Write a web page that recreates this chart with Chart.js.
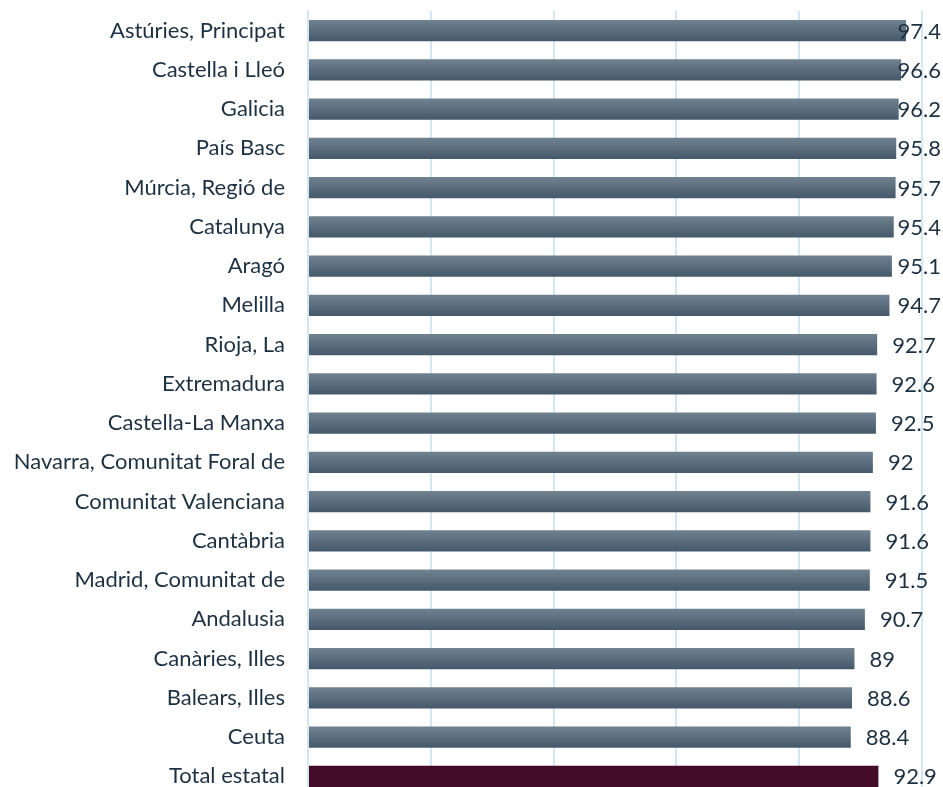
<!DOCTYPE html>
<html>
<head>
<meta charset="utf-8">
<script src="https://cdn.jsdelivr.net/npm/chart.js@4"></script>
<style>
  html, body { margin: 0; padding: 0; background: #fff; width: 943px; height: 787px; overflow: hidden; }
  canvas { display: block; }
</style>
</head>
<body>
<canvas id="c" width="943" height="796"></canvas>
<script>
const categories = [
  "Astúries, Principat", "Castella i Lleó", "Galicia", "País Basc", "Múrcia, Regió de",
  "Catalunya", "Aragó", "Melilla", "Rioja, La", "Extremadura", "Castella-La Manxa",
  "Navarra, Comunitat Foral de", "Comunitat Valenciana", "Cantàbria", "Madrid, Comunitat de",
  "Andalusia", "Canàries, Illes", "Balears, Illes", "Ceuta", "Total estatal"
];
const values = [97.4, 96.6, 96.2, 95.8, 95.7, 95.4, 95.1, 94.7, 92.7, 92.6, 92.5, 92, 91.6, 91.6, 91.5, 90.7, 89, 88.6, 88.4, 92.9];
const highlightCategory = "Total estatal";
const xTicks = [0, 20, 40, 60, 80, 100];

const FONT = "Lato, 'Open Sans', sans-serif";
const TEXT = "#1d3142";

function barColor(ctx) {
  const chart = ctx.chart;
  const label = chart.data.labels[ctx.dataIndex];
  if (label === highlightCategory) return "#430c29";
  const y = chart.scales.y;
  if (!y || !chart.chartArea) return "#56697a";
  const cy = y.getPixelForValue(ctx.dataIndex);
  const h = 11;
  const g = chart.ctx.createLinearGradient(0, cy - h, 0, cy + h);
  g.addColorStop(0, "#718390");
  g.addColorStop(1, "#44586a");
  return g;
}

const valueLabels = {
  id: "valueLabels",
  afterDatasetsDraw(chart) {
    const { ctx } = chart;
    const meta = chart.getDatasetMeta(0);
    ctx.save();
    ctx.font = "22px " + FONT;
    ctx.fillStyle = TEXT;
    ctx.textAlign = "left";
    ctx.textBaseline = "middle";
    meta.data.forEach((bar, i) => {
      const txt = String(values[i]);
      const w = ctx.measureText(txt).width;
      let x = bar.x + 15;
      const maxX = chart.width - 2 - w;
      if (x > maxX) x = maxX;
      ctx.fillText(txt, x, bar.y + 1);
    });
    ctx.restore();
  }
};

new Chart(document.getElementById("c"), {
  type: "bar",
  data: {
    labels: categories,
    datasets: [{
      data: values,
      backgroundColor: barColor,
      borderWidth: 0,
      barPercentage: 0.54,
      categoryPercentage: 1
    }]
  },
  options: {
    indexAxis: "y",
    responsive: false,
    animation: false,
    layout: { padding: { top: 11, right: 21, bottom: 0, left: 0 } },
    plugins: { legend: { display: false }, tooltip: { enabled: false } },
    scales: {
      x: {
        min: 0, max: 100,
        afterBuildTicks(scale) { scale.ticks = xTicks.map(v => ({ value: v })); },
        afterFit(scale) { scale.height = 0; scale.paddingLeft = 0; scale.paddingRight = 0; },
        ticks: { display: false },
        grid: { color: "#d3e6f4", lineWidth: 2, drawTicks: false },
        border: { display: false }
      },
      y: {
        afterFit(scale) { scale.width = 308; scale.paddingTop = 0; scale.paddingBottom = 0; },
        ticks: { color: TEXT, font: { family: FONT, size: 22 }, padding: 23 },
        grid: { display: false, drawTicks: false },
        border: { display: true, color: "#d3e6f4", width: 2 }
      }
    }
  },
  plugins: [valueLabels]
});
</script>
</body>
</html>
